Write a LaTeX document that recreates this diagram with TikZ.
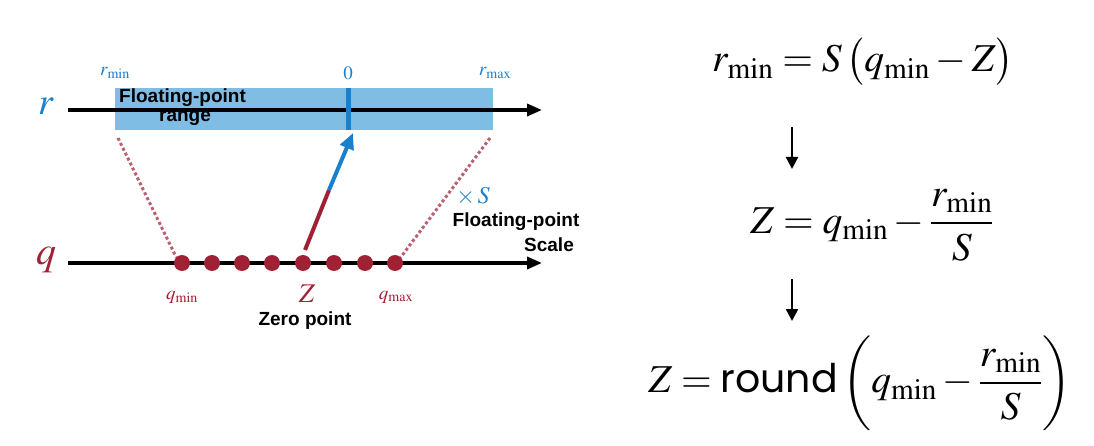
\documentclass[tikz,border=0pt]{standalone}
\usepackage{amsmath}
\usepackage{mathptmx}
\usepackage[no-math]{fontspec}
\newfontfamily\labfont{Liberation Sans}
\newfontfamily\rndfont{Poppins}
\usetikzlibrary{arrows.meta}
\definecolor{rblue}{RGB}{26,128,204}
\definecolor{boxblue}{RGB}{127,189,228}
\definecolor{qred}{RGB}{160,32,52}
\definecolor{dotpink}{RGB}{186,96,112}
\tikzset{
  axis/.style={line width=3.5pt,-{Triangle[length=15pt,width=12pt]}},
  qdot/.style={circle,fill=qred,inner sep=0pt,minimum size=16pt},
  dotline/.style={dotpink,line width=3pt,dash pattern=on 3pt off 2.5pt},
  bold/.style={font=\labfont\bfseries\fontsize{19}{21}\selectfont,inner sep=0pt,align=center},
  small/.style={font=\fontsize{19}{21}\selectfont,inner sep=0pt},
  eq/.style={font=\fontsize{39.5}{44}\selectfont,inner sep=0pt},
  down/.style={line width=2.5pt,-{Triangle[length=12pt,width=12pt]}}
}
\begin{document}
\begin{tikzpicture}[x=1pt,y=-1pt]
\useasboundingbox (0,0) rectangle (1094,446);
% r axis
\coordinate (rs) at (68,110);
\coordinate (re) at (542,110);
\node[fill=boxblue,minimum width=378pt,minimum height=42pt,inner sep=0pt,anchor=north west] (box) at (115,88) {};
\draw[axis] (rs) -- (re);
\fill[rblue] (346,88) rectangle (351,130);
\node[bold,anchor=west] (fp1) at (119,98) {Floating-point};
\node[bold] (fp2) at (185,118) {range};
\node[small,rblue] (rmin) at (115,73) {$r_{\mathrm{min}}$};
\node[small,rblue] (r0) at (348,73) {$0$};
\node[small,rblue] (rmax) at (495,73) {$r_{\mathrm{max}}$};
\node[font=\fontsize{38}{42}\selectfont,rblue,inner sep=0pt] (rlab) at (46,106) {$r$};
% q axis
\coordinate (qs) at (68,263);
\coordinate (qe) at (542,263);
\draw[axis] (qs) -- (qe);
\foreach \i/\x in {1/182,2/212,3/242,4/272,5/303,6/334,7/365,8/395}
  \node[qdot] (d\i) at (\x,263) {};
\node[font=\fontsize{40}{44}\selectfont,qred,inner sep=0pt] (qlab) at (46,260) {$q$};
% dotted projections
\coordinate (bl) at (118,138);
\coordinate (br) at (490,138);
\draw[dotline] (bl) -- (d1.north west);
\draw[dotline] (br) -- (d8.north east);
% Z arrow
\coordinate (zt) at (305,250);
\coordinate (zm) at (329,190);
\coordinate (zh) at (353,133);
\draw[qred,line width=4pt] (zt) -- (zm);
\draw[rblue,line width=4pt,-{Triangle[length=16pt,width=14pt]}] (zm) -- (zh);
% q labels
\node[small,qred] (qmin) at (182,297) {$q_{\mathrm{min}}$};
\node[font=\fontsize{27}{29}\selectfont,qred,inner sep=0pt] (zlab) at (307,294) {$Z$};
\node[small,qred] (qmax) at (396,297) {$q_{\mathrm{max}}$};
\node[bold] (zp) at (305,321) {Zero point};
\node[font=\fontsize{24}{26}\selectfont,rblue,inner sep=0pt] (times) at (473,196) {$\times\, S$};
\node[bold] (fps1) at (516,222) {Floating-point};
\node[bold] (fps2) at (549,245) {Scale};
% equations
\node[eq] (e1) at (863,62) {$r_{\mathrm{min}} = S\,\bigl(q_{\mathrm{min}} - Z\bigr)$};
\node[eq] (e2) at (872,225) {$Z = q_{\mathrm{min}} - \dfrac{r_{\mathrm{min}}}{S}$};
\node[eq] (e3) at (860,383) {$Z = \text{\rndfont round}\left(\rule[-0.95em]{0pt}{2.4em}q_{\mathrm{min}} - \dfrac{r_{\mathrm{min}}}{S}\right)$};
\coordinate (a1s) at (792,127);
\coordinate (a1e) at (792,169);
\coordinate (a2s) at (792,279);
\coordinate (a2e) at (792,321);
\draw[down] (a1s) -- (a1e);
\draw[down] (a2s) -- (a2e);
\end{tikzpicture}
\end{document}
